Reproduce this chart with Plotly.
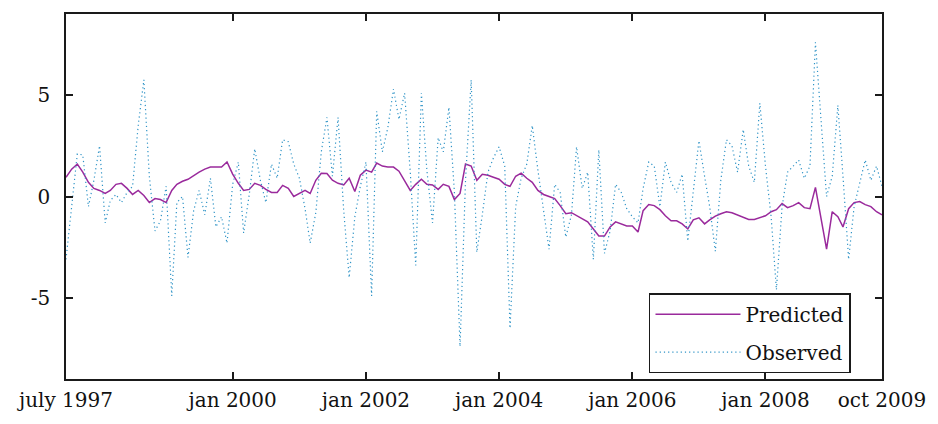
import pandas as pd
import plotly.graph_objects as go

start_month = "1997-07-01"
n_months = 148

predicted = [
    0.95, 1.35, 1.6, 1.2, 0.7, 0.4, 0.3, 0.15, 0.3, 0.6,
    0.65, 0.4, 0.1, 0.3, 0.05, -0.3, -0.1, -0.15, -0.3, 0.3,
    0.6, 0.75, 0.85, 1.05, 1.2, 1.35, 1.45, 1.45, 1.45, 1.7,
    1.1, 0.65, 0.3, 0.35, 0.65, 0.55, 0.35, 0.2, 0.2, 0.55,
    0.4, 0.0, 0.15, 0.3, 0.15, 0.8, 1.15, 1.13, 0.8, 0.65,
    0.57, 0.9, 0.25, 1.05, 1.3, 1.2, 1.65, 1.5, 1.45, 1.45,
    1.25, 0.75, 0.3, 0.6, 0.85, 0.6, 0.57, 0.35, 0.6, 0.5,
    -0.15, 0.15, 1.6, 1.5, 0.8, 1.1, 1.05, 0.95, 0.85, 0.6,
    0.5, 1.0, 1.15, 0.9, 0.7, 0.3, 0.1, 0.0, -0.1, -0.45,
    -0.85, -0.8, -0.95, -1.1, -1.25, -1.6, -1.95, -1.95, -1.5, -1.25,
    -1.35, -1.45, -1.45, -1.75, -0.7, -0.4, -0.45, -0.65, -0.95, -1.2,
    -1.2, -1.35, -1.6, -1.15, -1.05, -1.35, -1.15, -0.97, -0.85, -0.75,
    -0.8, -0.9, -1.0, -1.13, -1.13, -1.05, -0.95, -0.75, -0.65, -0.35,
    -0.55, -0.45, -0.3, -0.55, -0.6, 0.45, -1.2, -2.6, -0.75, -1.0,
    -1.5, -0.6, -0.3, -0.25, -0.4, -0.5, -0.75, -0.9,
]

observed = [
    -3.1, -0.5, 2.1, 2.05, -0.5, 0.8, 2.5, -1.3, -0.2, 0.1,
    -0.3, 0.2, 0.5, 3.5, 5.75, 1.0, -1.7, -1.2, 0.5, -4.9,
    -0.3, 0.0, -3.0, -0.7, 0.3, -0.9, 0.9, -1.5, -1.0, -2.3,
    0.6, 1.7, -1.8, 0.1, 2.35, 0.8, -0.3, 1.6, 0.9, 2.8,
    2.7, 1.6, 0.9, -0.6, -2.3, -0.8, 2.2, 3.9, 1.0, 3.9,
    -0.7, -4.0, -1.0, 0.5, 1.7, -4.9, 4.2, 2.2, 3.4, 5.3,
    3.8, 5.1, 1.2, -3.4, 5.1, 1.3, -1.3, 2.9, 2.2, 4.4,
    0.2, -7.4, 0.8, 5.75, -2.75, -0.9, 1.2, 1.9, 2.45, 1.5,
    -6.5, -0.5, 0.9, 1.6, 3.5, 1.3, -0.8, -2.6, 0.6, 0.2,
    -2.0, -0.9, 2.45, 0.4, 1.2, -3.1, 2.3, -2.8, -1.7, 0.6,
    0.2, -0.6, -1.0, -1.3, 0.4, 1.7, 1.5, -0.5, 1.7, 0.7,
    0.2, 1.1, -2.2, 0.3, 2.75, 1.0, -0.5, -2.7, 0.8, 2.8,
    2.5, 1.2, 3.3, 1.5, 0.7, 4.6, 1.5, -1.0, -4.6, -0.5,
    1.2, 1.5, 1.8, 0.9, 1.5, 7.6, 3.5, 0.0, 1.0, 4.5,
    1.0, -3.1, -0.5, 0.7, 1.8, 0.8, 1.5, 0.5,
]

x_tick_dates = ["1997-07-01", "2000-01-01", "2002-01-01", "2004-01-01",
                "2006-01-01", "2008-01-01", "2009-10-01"]
x_tick_labels = ["july 1997", "jan 2000", "jan 2002", "jan 2004",
                 "jan 2006", "jan 2008", "oct 2009"]
y_tick_vals = [-5, 0, 5]
y_tick_labels = ["-5", "0", "5"]

months = pd.date_range(start_month, periods=n_months, freq="MS")

FONT = "DejaVu Serif"

fig = go.Figure()
fig.add_trace(go.Scatter(
    x=months, y=predicted, mode="lines", name="Predicted",
    legendgroup="a",
    line=dict(color="#9a2a9c", width=1.5),
))
fig.add_trace(go.Scatter(
    x=months, y=observed, mode="lines", name="Observed",
    legendgroup="b",
    line=dict(color="#2e93c6", width=1.2, dash="1.2px,3px"),
))

axis_common = dict(
    showline=True, linecolor="#1a1a1a", linewidth=1.5, mirror="ticks",
    ticks="inside", ticklen=7, tickwidth=1.5, tickcolor="#1a1a1a",
    showgrid=False, zeroline=False,
    tickfont=dict(family=FONT, size=20, color="#111"),
)

fig.update_xaxes(
    range=[months[0], months[-1]],
    tickvals=x_tick_dates, ticktext=x_tick_labels,
    ticklabelstandoff=2,
    **axis_common,
)
fig.update_yaxes(
    range=[-9, 9],
    tickvals=y_tick_vals, ticktext=y_tick_labels,
    ticklabelstandoff=10,
    **axis_common,
)

fig.update_layout(
    width=938, height=424,
    margin=dict(l=66, r=54, t=12, b=43),
    paper_bgcolor="white", plot_bgcolor="white",
    showlegend=True,
    legend=dict(
        x=0.962, y=0.016, xanchor="right", yanchor="bottom",
        bgcolor="white", bordercolor="#1a1a1a", borderwidth=1.5,
        font=dict(family=FONT, size=20, color="#111"),
        itemwidth=85, traceorder="grouped", tracegroupgap=9,
    ),
)

fig.write_html("out.html")
